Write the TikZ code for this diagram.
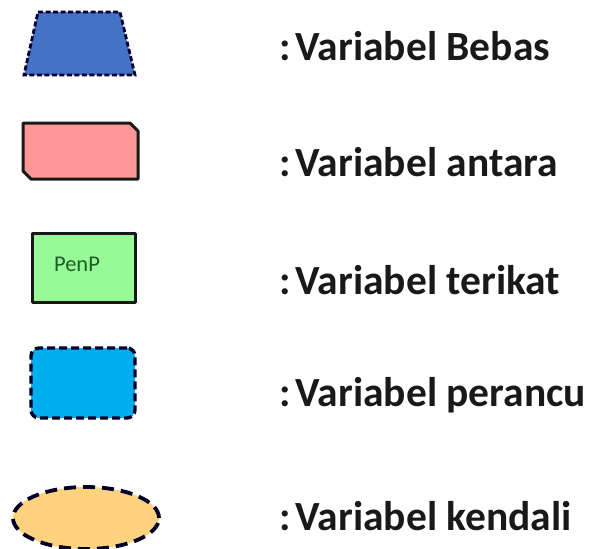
\documentclass[tikz,border=0pt]{standalone}
\usepackage{fontspec}
\setmainfont{Carlito}
\usetikzlibrary{shapes.geometric}
\definecolor{bebasblue}{HTML}{4472C4}
\definecolor{antarapink}{HTML}{FF9696}
\definecolor{terikatgreen}{HTML}{96FA96}
\definecolor{penpgreen}{HTML}{1E5E28}
\definecolor{perancucyan}{HTML}{00AEEF}
\definecolor{kendaliorange}{HTML}{FFD27F}
\begin{document}
\begin{tikzpicture}[x=1pt,y=-1pt,
  lbl/.style={anchor=west,font=\fontsize{41.5}{48}\selectfont\bfseries,text=black!90,inner sep=0pt},
  solidbox/.style={draw=black!90,line width=3pt,line join=round},
  dashbox/.style={draw=black!85!blue,line width=3.4pt,dash pattern=on 8pt off 4pt}]
\useasboundingbox (0,0) rectangle (598,549);
% Variabel Bebas
\draw[fill=bebasblue,draw=black!80!blue,line width=2.8pt,dash pattern=on 5pt off 2.5pt]
  (38,12) -- (120,12) -- (135,75) -- (24,75) -- cycle;
\node[lbl] (tbebas) at (279,46) {:\kern5pt Variabel Bebas};
% Variabel antara
\draw[solidbox,fill=antarapink]
  (23,123) -- (130,123) -- (138,131) -- (138,179) -- (31,179) -- (23,171) -- cycle;
\node[lbl] (tantara) at (279,162) {:\kern5pt Variabel antara};
% Variabel terikat
\node[solidbox,fill=terikatgreen,minimum width=103pt,minimum height=69pt,inner sep=0pt] (penpbox) at (84,268) {};
\node[text=penpgreen,font=\fontsize{22.5}{26}\selectfont,inner sep=0pt] (penp) at (77,264) {PenP};
\node[lbl] (tterikat) at (279,280) {:\kern5pt Variabel terikat};
% Variabel perancu
\node[dashbox,fill=perancucyan,rounded corners=8pt,minimum width=104pt,minimum height=70pt] (rancu) at (83,383) {};
\node[lbl] (tperancu) at (279,395) {:\kern5pt Variabel perancu};
% Variabel kendali
\node[ellipse,dashbox,line width=3.8pt,dash pattern=on 12pt off 7pt,fill=kendaliorange,minimum width=146pt,minimum height=62pt,inner sep=0pt] (kend) at (86,518) {};
\node[lbl] (tkendali) at (279,516) {:\kern5pt Variabel kendali};
\end{tikzpicture}
\end{document}
